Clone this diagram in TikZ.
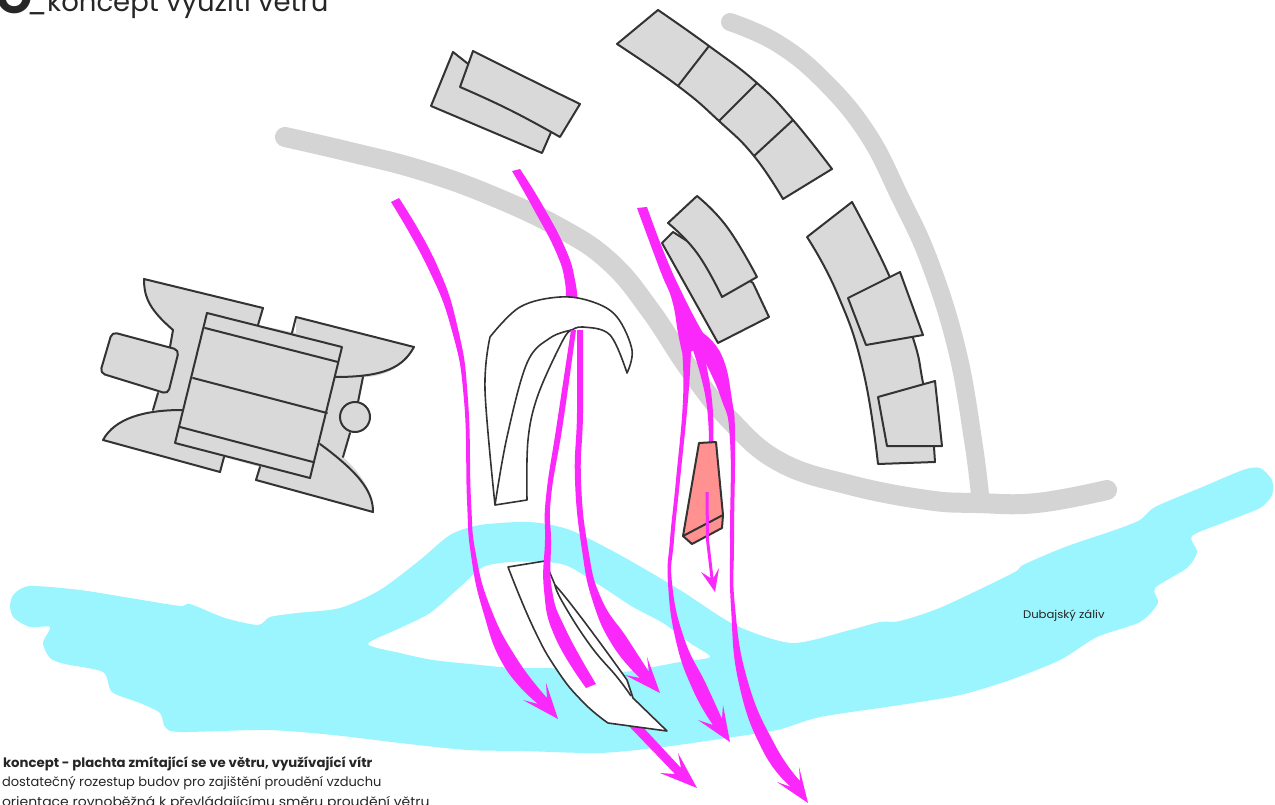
\documentclass[tikz,border=0pt]{standalone}
\usepackage{fontspec}
\usepackage{graphicx}
\setmainfont{Poppins}
\definecolor{water}{HTML}{9AF5FF}
\definecolor{road}{HTML}{D4D4D4}
\definecolor{bld}{HTML}{D9D9D9}
\definecolor{edge}{HTML}{333333}
\definecolor{wind}{HTML}{FA28FA}
\definecolor{hot}{HTML}{FF9191}
\tikzset{
  roadline/.style={draw=road,line width=20pt,line cap=round,line join=round},
  building/.style={fill=bld,draw=edge,line width=2pt,line join=round},
  bldfill/.style={fill=bld},
  bldline/.style={draw=edge,line width=2pt,line join=round,line cap=round},
  sailshape/.style={fill=white,draw=black!80,line width=1.6pt,line join=round},
  windshape/.style={fill=wind},
  sm/.style={smooth,tension=0.8},
  txt/.style={anchor=base west,inner sep=0pt,outer sep=0pt,text=black!85},
}
\begin{document}
\begin{tikzpicture}[x=1pt,y=-1pt]
\useasboundingbox (0,0) rectangle (1275,805);
\clip (0,0) rectangle (1275,805);
\fill[white] (0,0) rectangle (1275,805);
% water
\fill[water,even odd rule]
 plot[smooth cycle,tension=0.45] coordinates {
 (10,606)(14,594)(30,586)(80,590)(130,598)(180,606)(190,604)(225,618)(258,625)(270,617)(297,613)(340,608)(380,590)(420,560)(450,535)(480,525)(530,522)(570,530)(620,555)(680,590)(735,625)(792,643)(850,630)(880,622)(900,621)(942,607)(1013,573)(1023,565)(1065,547)(1115,530)(1140,520)(1155,507)(1200,488)(1243,470)(1260,468)(1272,480)(1272,495)(1260,508)(1225,522)(1192,536)(1197,552)(1187,568)(1155,588)(1158,603)(1140,622)(1097,637)(1060,660)(1010,680)(960,695)(900,705)(820,717)(777,730)(713,740)(663,747)(600,753)(523,751)(467,750)(400,743)(333,735)(267,730)(180,732)(165,727)(160,713)(140,703)(112,692)(103,672)(65,664)(50,658)(43,643)(50,627)(30,627)(14,618)}
 plot[smooth cycle,tension=0.45] coordinates {
 (368,644)(400,628)(430,613)(460,587)(483,567)(510,562)(547,562)(570,567)(607,590)(633,607)(663,623)(690,643)(710,657)(680,662)(653,667)(620,672)(547,668)(513,668)(480,665)(433,660)(400,653)};
% roads
\draw[roadline] plot[smooth,tension=0.7] coordinates {(285,137)(350,152)(420,170)(490,195)(560,228)(610,262)(650,310)(690,370)(730,420)(780,462)(850,485)(927,500)(977,503)(1037,503)(1107,490)};
\draw[roadline,line width=18pt] plot[smooth,tension=0.7] coordinates {(730,22)(777,43)(823,80)(867,133)(900,197)(930,263)(957,350)(973,440)(980,495)};
% building: top left
\draw[building] (453,52) -- (431,106) -- (542,153) -- (552,130) -- cycle;
\draw[building] plot[sm] coordinates {(473,51)(531,80)(580,104)} -- plot[sm] coordinates {(560,137)(510,110)(460,87)} -- cycle;
% arc of four
\draw[building] plot[sm] coordinates {(658,10)(709,46)(757,83)(793,120)(832,169)} -- plot[sm] coordinates {(783,199)(754,156)(719,121)(678,86)(617,44)} -- cycle;
\draw[bldline] (709,46) -- (678,86) (757,83) -- (719,121) (793,120) -- (754,156);
% middle double
\draw[building] (673,232) -- (662,243) -- plot[sm] coordinates {(662,243)(690,293)(718,343)} -- (769,317) -- (753,283) -- cycle;
\draw[building] plot[sm] coordinates {(697,196)(727,227)(757,277)} -- plot[sm] coordinates {(722,297)(697,253)(668,223)} -- cycle;
% right arc
\draw[building] plot[sm] coordinates {(852,202)(888,273)(913,338)(923,383)(934,447)} -- (935,462) -- (878,464) -- plot[sm] coordinates {(878,464)(863,370)(837,293)(807,237)} -- cycle;
\draw[building] (900,272) -- (848,298) -- (866,345) -- (923,335) -- cycle;
\draw[building] (935,381) -- (878,397) -- (887,446) -- (942,446) -- cycle;
% ship building: fills
\fill[bldfill] (144,279) -- (263,308) -- (258,325) -- (296,333) -- (296,317) -- (414,347) .. controls (403,367) and (385,377) .. (363,377) -- (343,457) .. controls (365,477) and (373,495) .. (373,512) -- (256,480) -- (260,467) -- (224,457) -- (220,472) -- (103,440) .. controls (115,418) and (145,410) .. (182,410) -- (153,410) -- (173,330) .. controls (150,310) and (144,298) .. cycle;
\fill[bldfill] (182,410) -- (153,410) -- (173,330) -- (363,377) -- (343,457) -- cycle;
\draw[bldline] (258,325) -- (263,308) -- (144,279) .. controls (144,298) and (150,310) .. (173,330) -- (170,347);
\draw[bldline] (158,393) -- (153,410);
\draw[bldline] (182,410) .. controls (145,410) and (115,418) .. (103,440) -- (220,472) -- (224,457);
\draw[bldline] (292,333) -- (296,317) -- (414,347) .. controls (403,367) and (385,377) .. (335,377);
\draw[bldline] (363,377) -- (358,402);
\draw[bldline] (350,433) -- (343,457);
\draw[bldline] (260,467) -- (256,480) -- (373,512) .. controls (373,495) and (365,477) .. (320,444);
\draw[building] (355,417) circle[radius=15];
\draw[building,rounded corners=5pt] (112,332) -- (179,350) -- (168,394) -- (100,373) -- cycle;
\draw[building] (207,313) -- (342,347) -- (310,478) -- (175,443) -- cycle;
\draw[bldline] (205,328) -- (338,362) (193,378) -- (327,413) (180,427) -- (313,462);
% lower arrow piece behind lower sail, lower sail
\path[windshape] (625,722) -- (640,724) -- (681,768) -- (678,753) -- (697,788) -- (660,773) -- (675,774) -- cycle;
\draw[sailshape] (508,567) -- (545,561) -- (555,585) -- plot[sm] coordinates {(555,585)(570,603)(598,640)(627,680)} -- (633,698) -- (667,731) -- (608,723) -- plot[sm] coordinates {(608,723)(583,702)(557,670)(533,627)(508,567)} -- cycle;
\draw[sailshape,fill=none] plot[sm] coordinates {(555,585)(563,603)(590,645)(617,677)(631,696)};
% wind A1
\path[windshape] plot[sm] coordinates {(399,198)(436,263)(458,329)(468,400)(471,500)(476,555)(491,609)(517,659)(547,698)} -- (546,683) -- (558,719) -- (523,700) -- (538,704) -- plot[sm] coordinates {(538,704)(504,666)(483,611)(471,555)(467,500)(464,400)(452,331)(428,268)(391,202)} -- cycle;
% wind A2 above sail
\path[windshape] plot[sm] coordinates {(520,169)(543,206)(566,250)(575,280)(578,305)} -- plot[sm] coordinates {(565,305)(565,282)(556,252)(533,208)(512,171)} -- cycle;
% upper sail
\draw[sailshape] plot[smooth,tension=0.6] coordinates {(627,373)(632,350)(617,317)(593,302)(560,297)(520,307)(490,337)} -- plot[smooth,tension=0.6] coordinates {(490,337)(485,390)(495,505)} -- (527,500) -- plot[smooth,tension=0.6] coordinates {(527,500)(528,440)(538,395)(563,340)(572,330)} -- plot[smooth,tension=0.6] coordinates {(572,330)(583,327)(610,335)(627,373)} -- cycle;
\draw[sailshape,fill=none] plot[smooth,tension=0.6] coordinates {(495,505)(507,437)(527,363)(550,338)(572,330)};
% wind A2 lower branches
\path[windshape] plot[sm] coordinates {(576,330)(563,423)(551,497)(551,540)(552,590)(566,630)(596,684)} -- (586,688) -- plot[sm] coordinates {(586,688)(555,637)(544,590)(545,540)(546,497)(557,423)(571,330)} -- cycle;
\path[windshape] plot[sm] coordinates {(583,330)(583,413)(581,480)(588,548)(601,598)(627,638)(649,672)} -- (647,657) -- (660,693) -- (625,675) -- (640,678) -- plot[sm] coordinates {(640,678)(613,646)(593,602)(582,550)(575,480)(577,413)(577,330)} -- cycle;
% wind trunk
\path[windshape] plot[sm] coordinates {(647,207)(665,255)(683,295)(703,333)(716,352)} -- (706,364) -- (700,347) -- (690,352) -- (682,352) -- plot[sm] coordinates {(682,352)(678,333)(672,300)(660,270)(637,208)} -- cycle;
% wind branches
\path[windshape] plot[sm] coordinates {(691,350)(688,400)(680,480)(674,540)(672,583)(684,638)(706,684)(722,719)} -- (723,705) -- (730,742) -- (698,720) -- (713,725) -- plot[sm] coordinates {(713,725)(693,690)(676,641)(668,583)(670,540)(676,480)(683,400)(682,350)} -- cycle;
\path[windshape] plot[sm] coordinates {(693,350)(706,400)(709,450)} -- (713,450) -- plot[sm] coordinates {(713,450)(712,400)(702,345)} -- cycle;
\path[windshape] plot[sm] coordinates {(703,333)(722,356)(732,400)(735,440)(734,540)(735,607)(748,682)(775,745)(800,781)} -- (799,767) -- (808,803) -- (777,782) -- (791,787) -- plot[sm] coordinates {(791,787)(763,751)(739,684)(731,607)(730,540)(730,440)(721,398)(703,358)} -- cycle;
% pink block
\draw[building,fill=hot] (699,443) -- (716,442) -- (723,515) -- (722,528) -- (692,544) -- (683,536) -- cycle;
\draw[bldline] (683,536) -- (723,515);
\path[windshape] (705.5,492) -- (708.5,492) -- (709,540) -- (713.5,578) -- (719,568) -- (715,592) -- (701,572) -- (710.5,578) -- (706,540) -- cycle;
% text
\node[txt,font=\fontsize{46}{46}\selectfont\bfseries] (mark) at (-3,14) {O};
\node[txt,font=\fontsize{27.5}{28}\selectfont] (title) at (27,12) {\_koncept využití větru};
\node[txt,font=\fontsize{11}{13}\selectfont] (bay) at (1023,618) {\scalebox{1.06}[1]{Dubajský záliv}};
\node[txt,font=\fontsize{13}{15}\selectfont\bfseries] (l1) at (3,767) {\scalebox{1.02}[1]{koncept - plachta zmítající se ve větru, využívající vítr}};
\node[txt,font=\fontsize{13}{15}\selectfont] (l2) at (2,786) {dostatečný rozestup budov pro zajištění proudění vzduchu};
\node[txt,font=\fontsize{13}{15}\selectfont] (l3) at (2,806) {\scalebox{1.075}[1]{orientace rovnoběžná k převládajícímu směru proudění větru}};
\end{tikzpicture}
\end{document}
